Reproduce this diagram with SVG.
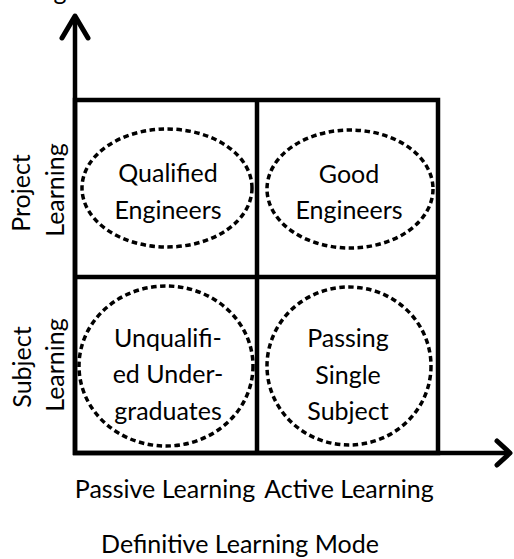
<svg xmlns="http://www.w3.org/2000/svg" width="514" height="559" viewBox="0 0 514 559">
<style>
  text { font-family: Lato, "Liberation Sans", sans-serif; font-size: 25px; fill: #000; }
  .c { text-anchor: middle; }
  .grid { fill: none; stroke: #000; stroke-width: 4.5; stroke-linejoin: miter; }
  .axis { fill: none; stroke: #000; stroke-width: 4.5; }
  .head { fill: none; stroke: #000; stroke-width: 5; stroke-linecap: round; stroke-linejoin: round; }
  .oval { fill: none; stroke: #000; stroke-width: 3.5; stroke-dasharray: 5.5 3.5; }
</style>
<rect width="514" height="559" fill="#fff"/>
<text x="-27" y="0">Learning Mode</text>
<g id="connectors">
  <line class="axis" x1="75" y1="455" x2="75" y2="18"/>
  <polyline class="head" points="62,38 75,16 88,38"/>
  <line class="axis" x1="73" y1="453" x2="509" y2="453"/>
  <polyline class="head" points="497,441 510,453 497,465"/>
</g>
<g id="grid">
  <rect class="grid" x="75" y="100" width="363" height="353"/>
  <line class="grid" x1="257" y1="100" x2="257" y2="453"/>
  <line class="grid" x1="75" y1="277" x2="438" y2="277"/>
</g>
<g id="qualified-engineers">
  <ellipse class="oval" cx="167" cy="188" rx="85" ry="59"/>
  <text class="c" x="168" y="182">Qualified</text>
  <text class="c" x="168" y="219">Engineers</text>
</g>
<g id="good-engineers">
  <ellipse class="oval" cx="350" cy="189" rx="83" ry="59"/>
  <text class="c" x="349" y="183">Good</text>
  <text class="c" x="349" y="219">Engineers</text>
</g>
<g id="unqualified-undergraduates">
  <ellipse class="oval" cx="166" cy="366" rx="87" ry="80"/>
  <text class="c" x="168" y="347">Unqualifi-</text>
  <text class="c" x="168" y="383">ed Under-</text>
  <text class="c" x="168" y="420">graduates</text>
</g>
<g id="passing-single-subject">
  <ellipse class="oval" cx="349" cy="366" rx="82" ry="79"/>
  <text class="c" x="348" y="347">Passing</text>
  <text class="c" x="348" y="384">Single</text>
  <text class="c" x="348" y="420">Subject</text>
</g>
<g id="y-labels">
  <text class="c" transform="translate(30,193) rotate(-90)">Project</text>
  <text class="c" transform="translate(64,190) rotate(-90)">Learning</text>
  <text class="c" transform="translate(31,367) rotate(-90)">Subject</text>
  <text class="c" transform="translate(64,365) rotate(-90)">Learning</text>
</g>
<g id="x-labels">
  <text class="c" x="165" y="498">Passive Learning</text>
  <text class="c" x="349" y="498">Active Learning</text>
  <text class="c" x="240" y="553">Definitive Learning Mode</text>
</g>
</svg>
